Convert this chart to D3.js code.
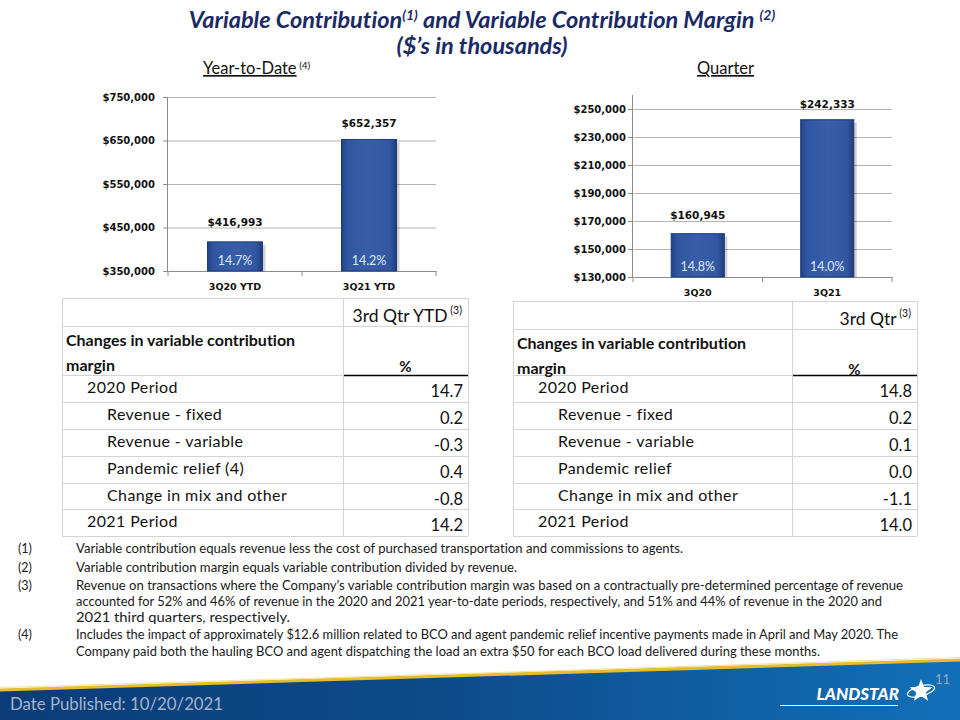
<!DOCTYPE html>
<html><head><meta charset="utf-8">
<script src="https://cdn.jsdelivr.net/npm/d3@7"></script>
<style>
html,body{margin:0;padding:0;background:#fff;}
svg{display:block;}
text{font-variant-ligatures:none;font-feature-settings:"liga" 0,"clig" 0;}
</style></head>
<body>
<svg id="c" width="960" height="720"></svg>
<script>
// ---------- DATA ----------
const ytdCategories = ["3Q20 YTD", "3Q21 YTD"];
const ytdValues = [416993, 652357];
const ytdMargins = ["14.7%", "14.2%"];
const ytdTicks = [350000, 450000, 550000, 650000, 750000];

const qtrCategories = ["3Q20", "3Q21"];
const qtrValues = [160945, 242333];
const qtrMargins = ["14.8%", "14.0%"];
const qtrTicks = [130000, 150000, 170000, 190000, 210000, 230000, 250000];

const tableRowLabels = ["2020 Period", "Revenue - fixed", "Revenue - variable", "Pandemic relief (4)", "Change in mix and other", "2021 Period"];
const tableRowLabelsQtr = ["2020 Period", "Revenue - fixed", "Revenue - variable", "Pandemic relief", "Change in mix and other", "2021 Period"];
const tableIndent = [0, 1, 1, 1, 1, 0];
const ytdChanges = ["14.7", "0.2", "-0.3", "0.4", "-0.8", "14.2"];
const qtrChanges = ["14.8", "0.2", "0.1", "0.0", "-1.1", "14.0"];

const footnotes = [
  ["(1)", ["Variable contribution equals revenue less the cost of purchased transportation and commissions to agents."]],
  ["(2)", ["Variable contribution margin equals variable contribution divided by revenue."]],
  ["(3)", ["Revenue on transactions where the Company\u2019s variable contribution margin was based on a contractually pre-determined percentage of revenue",
           "accounted for 52% and 46% of revenue in the 2020 and 2021 year-to-date periods, respectively, and 51% and 44% of revenue in the 2020 and",
           "2021 third quarters, respectively."]],
  ["(4)", ["Includes the impact of approximately $12.6 million related to BCO and agent pandemic relief incentive payments made in April and May 2020. The",
           "Company paid both the hauling BCO and agent dispatching the load an extra $50 for each BCO load delivered during these months."]]
];
const footnoteWidths = [[607], [441], [827, 806, 214], [822, 744]];

const svg = d3.select("#c");
const defs = svg.append("defs");

const bg = defs.append("linearGradient").attr("id","barGrad").attr("x1","0").attr("x2","1").attr("y1","0").attr("y2","0");
bg.append("stop").attr("offset","0%").attr("stop-color","#21438a");
bg.append("stop").attr("offset","12%").attr("stop-color","#3157a2");
bg.append("stop").attr("offset","50%").attr("stop-color","#385ea9");
bg.append("stop").attr("offset","88%").attr("stop-color","#3157a2");
bg.append("stop").attr("offset","100%").attr("stop-color","#1d3c7c");

const fg = defs.append("linearGradient").attr("id","footGrad").attr("x1","0").attr("x2","1").attr("y1","0").attr("y2","0");
fg.append("stop").attr("offset","0%").attr("stop-color","#0b3c78");
fg.append("stop").attr("offset","45%").attr("stop-color","#0d4a8a");
fg.append("stop").attr("offset","100%").attr("stop-color","#1270b8");

// ---------- TITLE ----------
const titleColor = "#1b2a66";
const t1 = svg.append("text").attr("x", 482).attr("y", 28).attr("text-anchor","middle")
  .style("font-family","Lato").style("font-weight","bold").style("font-style","italic")
  .style("font-size","23.5px").attr("fill", titleColor);
t1.append("tspan").text("Variable Contribution");
t1.append("tspan").text("(1)").attr("dy",-8).style("font-size","14px");
t1.append("tspan").text(" and Variable Contribution Margin ").attr("dy",8);
t1.append("tspan").text("(2)").attr("dy",-8).style("font-size","14px");
svg.append("text").attr("x", 482).attr("y", 54).attr("text-anchor","middle")
  .style("font-family","Lato").style("font-weight","bold").style("font-style","italic")
  .style("font-size","23.5px").attr("fill", titleColor).text("($\u2019s in thousands)");

const sub1 = svg.append("text").attr("x",203).attr("y",74).style("font-family","Lato").style("font-size","16.5px").attr("fill","#111");
sub1.append("tspan").text("Year-to-Date").style("text-decoration","underline");
sub1.append("tspan").text(" (4)").attr("dy",-5).style("font-size","10px");
svg.append("text").attr("x",697).attr("y",74).style("font-family","Lato").style("font-size","16.5px").attr("fill","#111")
  .style("text-decoration","underline").text("Quarter");

// ---------- BAR CHARTS ----------
function barChart(o){
  const g = svg.append("g");
  const x = d3.scaleBand().domain(o.cats).range([o.x0, o.x1]).paddingInner(0.59).paddingOuter(0.295);
  const y = d3.scaleLinear().domain(o.domain).range([o.y0, o.y1]);
  g.selectAll(".grid").data(o.ticks.slice(1)).join("line")
    .attr("x1", o.x0).attr("x2", o.x1).attr("y1", d=>y(d)+0.5).attr("y2", d=>y(d)+0.5)
    .attr("stroke","#b4b4b4").attr("stroke-width",1);
  const ya = g.append("g").attr("transform",`translate(${o.x0},0)`)
    .call(d3.axisLeft(y).tickValues(o.ticks).tickSize(5).tickPadding(o.tickPad).tickFormat(d=>"$"+d3.format(",")(d)));
  ya.select(".domain").attr("stroke","#8c8c8c").attr("d", `M-0.5,${o.y0}V${y(o.domain[1])}`);
  ya.selectAll(".tick line").attr("stroke","#8c8c8c");
  ya.selectAll(".tick text").style("font-family","DejaVu Sans").style("font-weight","bold").style("font-size","10px").attr("fill","#111");
  const xa = g.append("g").attr("transform",`translate(0,${o.y0})`)
    .call(d3.axisBottom(x).tickSize(0).tickPadding(12));
  xa.select(".domain").attr("stroke","#8c8c8c");
  xa.selectAll(".tick text").style("font-family","DejaVu Sans").style("font-weight","bold").style("font-size","9.5px").attr("fill","#111");
  g.selectAll(".sep").data([o.x0, (o.x0+o.x1)/2, o.x1]).join("line")
    .attr("x1",d=>d).attr("x2",d=>d).attr("y1",o.y0).attr("y2",o.y0+5).attr("stroke","#8c8c8c");
  g.selectAll(".shadow").data(o.vals).join("rect")
    .attr("x",(d,i)=>x(o.cats[i])+3).attr("y",d=>y(d)+3)
    .attr("width",x.bandwidth()).attr("height",d=>o.y0-y(d)-3)
    .attr("fill","#000").attr("opacity",0.18);
  g.selectAll(".bar").data(o.vals).join("rect")
    .attr("x",(d,i)=>x(o.cats[i])).attr("y",d=>y(d))
    .attr("width",x.bandwidth()).attr("height",d=>o.y0-y(d))
    .attr("fill","url(#barGrad)").attr("stroke","#1c3a75").attr("stroke-width",1);
  g.selectAll(".vl").data(o.vals).join("text")
    .attr("x",(d,i)=>x(o.cats[i])+x.bandwidth()/2).attr("y",(d,i)=>y(d)-o.labelGap[i])
    .attr("text-anchor","middle").style("font-family","DejaVu Sans").style("font-weight","bold").style("font-size","10.5px").attr("fill","#111")
    .text(d=>"$"+d3.format(",")(d));
  g.selectAll(".ml").data(o.margins).join("text")
    .attr("x",(d,i)=>x(o.cats[i])+x.bandwidth()/2).attr("y",o.y0-6)
    .attr("text-anchor","middle").style("font-family","Lato").style("font-size","12.5px").attr("fill","#dfe7f5")
    .text(d=>d);
}
barChart({cats:ytdCategories, vals:ytdValues, margins:ytdMargins, ticks:ytdTicks, domain:[350000,750000],
  x0:168, x1:436, y0:271, y1:97, tickPad:8, labelGap:[16,12]});
barChart({cats:qtrCategories, vals:qtrValues, margins:qtrMargins, ticks:qtrTicks, domain:[130000,260000],
  x0:633, x1:892, y0:277, y1:95, tickPad:2, labelGap:[15,12]});

// ---------- TABLES ----------
function table(o){
  const g = svg.append("g");
  const rowY = [375, 402, 429, 456, 483, 509, 536];
  const gc = "#d4d4d4";
  const hl = [o.top, o.top+28, ...rowY.slice(1)];
  g.selectAll(".hl").data(hl).join("line").attr("x1",o.x0).attr("x2",o.x2).attr("y1",d=>d+0.5).attr("y2",d=>d+0.5).attr("stroke",gc);
  g.append("line").attr("x1",o.x0).attr("x2",o.x1).attr("y1",rowY[0]+0.5).attr("y2",rowY[0]+0.5).attr("stroke",gc);
  g.append("line").attr("x1",o.x1).attr("x2",o.x2).attr("y1",rowY[0]+0.5).attr("y2",rowY[0]+0.5).attr("stroke","#000").attr("stroke-width",1.5);
  g.selectAll(".vl").data([o.x0,o.x1,o.x2]).join("line").attr("x1",d=>d+0.5).attr("x2",d=>d+0.5).attr("y1",o.top).attr("y2",rowY[6]).attr("stroke",gc);
  const h = g.append("text").attr("x", o.x2-6).attr("y", o.top+24).attr("text-anchor","end")
    .style("font-family","Lato").style("font-size","17.5px").attr("fill","#111");
  h.append("tspan").text(o.head);
  h.append("tspan").text(" (3)").attr("dy",-8).style("font-size","10.5px");
  g.append("text").attr("x",o.x0+4).attr("y",o.top+48).style("font-family","Lato").style("font-weight","bold").style("font-size","16px").attr("fill","#111").text("Changes in variable contribution");
  g.append("text").attr("x",o.x0+4).attr("y",o.top+73).style("font-family","Lato").style("font-weight","bold").style("font-size","16px").attr("fill","#111").text("margin");
  g.append("text").attr("x",(o.x1+o.x2)/2).attr("y",o.top+74).attr("text-anchor","middle").style("font-family","Lato").style("font-weight","bold").style("font-size","15px").attr("fill","#111").text("%");
  g.selectAll(".rl").data(o.labels).join("text")
    .attr("x",(d,i)=>o.x0+25+tableIndent[i]*20).attr("y",(d,i)=>rowY[i]+18)
    .style("font-family","Lato").style("font-size","16px").style("letter-spacing","0.4px").attr("fill","#111").text(d=>d);
  g.selectAll(".rv").data(o.vals).join("text")
    .attr("x",o.x2-5).attr("y",(d,i)=>rowY[i]+22).attr("text-anchor","end")
    .style("font-family","Lato").style("font-size","16.5px").attr("fill","#111").text(d=>d);
}
table({x0:62, x1:343, x2:468, top:298, head:"3rd Qtr YTD", labels:tableRowLabels, vals:ytdChanges});
table({x0:513, x1:792, x2:917, top:301, head:"3rd Qtr", labels:tableRowLabelsQtr, vals:qtrChanges});

// ---------- FOOTNOTES ----------
const fnY = [553, 572, 590, 606, 622, 639, 656];
let li = 0;
footnotes.forEach((fn, k) => {
  svg.append("text").attr("x",18).attr("y",fnY[li]).style("font-family","Lato").style("font-size","12.5px").attr("fill","#1a1a1a").text(fn[0]);
  fn[1].forEach((line, j) => {
    svg.append("text").attr("x",76).attr("y",fnY[li]).style("font-family","Lato").style("font-size","12.5px").attr("fill","#1a1a1a")
      .attr("textLength", footnoteWidths[k][j]).attr("lengthAdjust","spacingAndGlyphs").text(line);
    li++;
  });
});

// ---------- FOOTER ----------
svg.append("path").attr("d","M0,690 Q480,676 960,660 L960,720 L0,720 Z").attr("fill","url(#footGrad)");
svg.append("path").attr("d","M0,690 Q480,676 960,660").attr("fill","none").attr("stroke","#e9bd2a").attr("stroke-width",3);
svg.append("path").attr("d","M0,687.5 Q480,673.5 960,657.5").attr("fill","none").attr("stroke","#f3e3a8").attr("stroke-width",1);
svg.append("text").attr("x",10).attr("y",710).style("font-family","Lato").style("font-size","16.8px").attr("fill","#a3b4cb").text("Date Published:  10/20/2021");
svg.append("text").attr("x",950).attr("y",684).attr("text-anchor","end").style("font-family","Lato").style("font-size","13px").attr("fill","#9aa8bd").text("11");
svg.append("text").attr("x",899).attr("y",700).attr("text-anchor","end").style("font-family","Lato").style("font-weight","900").style("font-style","italic").style("font-size","17px").attr("fill","#fff").text("LANDSTAR");
svg.append("line").attr("x1",780).attr("x2",898).attr("y1",705.5).attr("y2",705.5).attr("stroke","#fff").attr("stroke-width",1);
const star = d3.range(10).map(i => { const r = i%2 ? 5 : 12; const a = -Math.PI/2 + i*Math.PI/5; return [921 + r*Math.cos(a), 691 + r*Math.sin(a)]; });
svg.append("path").attr("d", d3.line()(star)+"Z").attr("fill","#fff");
svg.append("ellipse").attr("cx",921).attr("cy",691).attr("rx",14).attr("ry",5).attr("fill","none").attr("stroke","#fff").attr("stroke-width",1.2).attr("transform","rotate(-15,921,691)");
</script>
</body></html>
